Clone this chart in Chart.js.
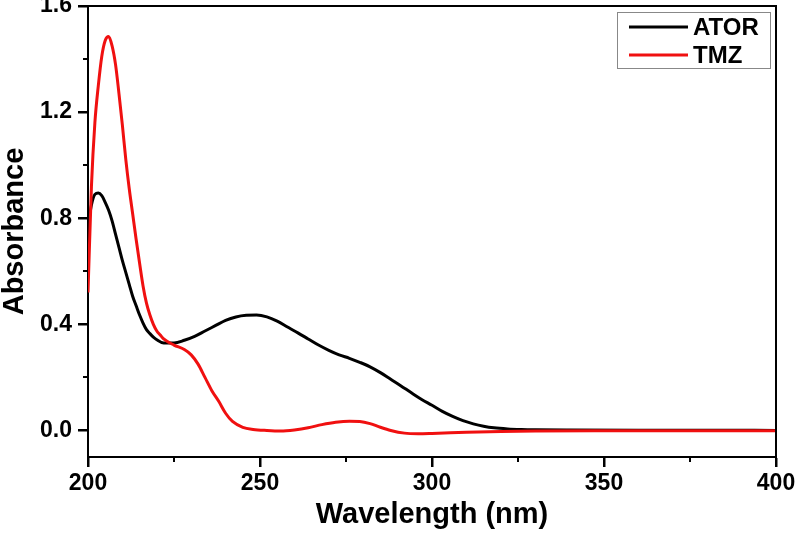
<!DOCTYPE html>
<html>
<head>
<meta charset="utf-8">
<script src="https://cdn.jsdelivr.net/npm/chart.js@4.4.1/dist/chart.umd.min.js"></script>
<style>
  html, body { margin: 0; padding: 0; background: #fff; }
  #wrap { width: 796px; height: 535px; }
</style>
</head>
<body>
<div id="wrap"><canvas id="c" width="796" height="535"></canvas></div>
<script>
// Wavelength (nm) and absorbance values
const atorWavelength = [200,201,202,203,204,205,206,207,208,209,210,211,212,213,214,215,216,217,218,219,220,222,225,228,231,234,237,240,243,246,249,252,255,258,261,264,267,270,273,276,279,282,285,288,291,294,297,300,303,306,309,312,315,318,322,326,330,340,360,380,400];
const atorAbsorbance = [0.77,0.85,0.89,0.895,0.885,0.86,0.83,0.79,0.74,0.69,0.64,0.595,0.55,0.505,0.47,0.435,0.405,0.38,0.365,0.352,0.342,0.33,0.33,0.34,0.355,0.375,0.395,0.415,0.428,0.434,0.435,0.428,0.412,0.39,0.368,0.345,0.322,0.302,0.285,0.272,0.257,0.24,0.218,0.193,0.168,0.142,0.117,0.095,0.072,0.053,0.037,0.025,0.016,0.010,0.006,0.004,0.003,0.002,0.001,0.001,0.0];

const tmzWavelength = [200,201,202,203,204,205,206,207,208,209,210,211,212,213,214,215,216,217,218,219,220,221,222,225,228,230,232,234,236,238,240,242,245,248,252,256,260,264,268,272,276,279,282,285,288,292,296,300,310,320,330,350,400];
const tmzAbsorbance = [0.52,0.92,1.16,1.30,1.41,1.47,1.485,1.45,1.38,1.27,1.15,1.02,0.91,0.815,0.72,0.63,0.545,0.48,0.435,0.40,0.375,0.36,0.345,0.322,0.305,0.285,0.25,0.20,0.15,0.11,0.065,0.034,0.012,0.004,0.0,-0.002,0.002,0.01,0.022,0.031,0.035,0.034,0.026,0.012,0.0,-0.01,-0.012,-0.011,-0.007,-0.004,-0.002,-0.001,-0.001];

const seriesNames = ['ATOR', 'TMZ'];
const xTickValues = [200, 250, 300, 350, 400];
const xMinorTicks = [225, 275, 325, 375];
const yTickValues = [0.0, 0.4, 0.8, 1.2, 1.6];
const yMinorTicks = [0.2, 0.6, 1.0, 1.4];

const FONT = '"Liberation Sans", Arial, sans-serif';

const toPoints = (xs, ys) => xs.map((x, i) => ({ x: x, y: ys[i] }));

function strokeTicks(ctx, segs) {
  ctx.beginPath();
  segs.forEach(s => { ctx.moveTo(s[0], s[1]); ctx.lineTo(s[2], s[3]); });
  ctx.stroke();
}

const frameAndTicks = {
  id: 'frameAndTicks',
  afterDraw(chart) {
    const ctx = chart.ctx;
    const a = chart.chartArea;
    const xs = chart.scales.x, ys = chart.scales.y;
    ctx.save();
    ctx.strokeStyle = '#000';
    ctx.lineWidth = 2;
    ctx.beginPath();
    ctx.moveTo(a.left, a.top); ctx.lineTo(a.right, a.top); ctx.lineTo(a.right, a.bottom);
    ctx.stroke();
    const segs = [];
    xTickValues.forEach(v => {
      const px = Math.round(xs.getPixelForValue(v));
      segs.push([px, a.bottom, px, a.bottom + 10]);
    });
    xMinorTicks.forEach(v => {
      const px = Math.round(xs.getPixelForValue(v));
      segs.push([px, a.bottom, px, a.bottom + 5]);
    });
    yTickValues.forEach(v => {
      const py = Math.round(ys.getPixelForValue(v));
      segs.push([a.left, py, a.left - 10, py]);
    });
    yMinorTicks.forEach(v => {
      const py = Math.round(ys.getPixelForValue(v));
      segs.push([a.left, py, a.left - 5, py]);
    });
    ctx.strokeStyle = '#000';
    ctx.lineWidth = 2;
    strokeTicks(ctx, segs);

    // legend
    const bx = 617, by = 12, bw = 153, bh = 56;
    ctx.fillStyle = '#fff';
    ctx.fillRect(bx, by, bw, bh);
    ctx.strokeStyle = '#888';
    ctx.lineWidth = 1;
    ctx.strokeRect(bx + 0.5, by + 0.5, bw, bh);
    const rows = [27, 55];
    chart.data.datasets.forEach((ds, i) => {
      const y = rows[i];
      ctx.strokeStyle = ds.borderColor;
      ctx.lineWidth = 3;
      ctx.beginPath();
      ctx.moveTo(629, y); ctx.lineTo(688, y);
      ctx.stroke();
      ctx.fillStyle = '#000';
      ctx.font = 'bold 24px ' + FONT;
      ctx.textBaseline = 'middle';
      ctx.textAlign = 'left';
      ctx.fillText(ds.label, 693, y + 1);
    });
    ctx.restore();
  }
};

new Chart(document.getElementById('c'), {
  type: 'line',
  data: {
    datasets: [
      { label: seriesNames[0], data: toPoints(atorWavelength, atorAbsorbance), borderColor: '#000000', borderWidth: 3, pointRadius: 0, tension: 0.4, cubicInterpolationMode: 'monotone', fill: false, order: 1 },
      { label: seriesNames[1], data: toPoints(tmzWavelength, tmzAbsorbance), borderColor: '#f01010', borderWidth: 3, pointRadius: 0, tension: 0.4, cubicInterpolationMode: 'monotone', fill: false, order: 0 }
    ]
  },
  options: {
    responsive: false,
    animation: false,
    layout: { padding: { top: 6, right: 20, left: 0, bottom: 0 } },
    plugins: { legend: { display: false }, tooltip: { enabled: false } },
    scales: {
      x: {
        type: 'linear', min: 200, max: 400,
        afterFit: s => { s.height = 78; s.paddingLeft = 0; s.paddingRight = 0; },
        afterBuildTicks: s => { s.ticks = xTickValues.map(v => ({ value: v })); },
        grid: { drawOnChartArea: false, tickLength: 10, tickColor: '#000', tickWidth: 2 },
        border: { color: '#000', width: 2 },
        ticks: { color: '#000', font: { family: FONT, size: 23, weight: 'bold' }, padding: 3, maxRotation: 0, callback: v => String(v) },
        title: { display: true, text: 'Wavelength (nm)', color: '#000', font: { family: FONT, size: 29, weight: 'bold', lineHeight: 1.2 }, padding: { top: 0, bottom: 3 } }
      },
      y: {
        type: 'linear', min: -0.1, max: 1.6,
        afterFit: s => { s.width = 88; s.paddingTop = 0; s.paddingBottom = 0; },
        afterBuildTicks: s => { s.ticks = yTickValues.map(v => ({ value: v })); },
        grid: { drawOnChartArea: false, tickLength: 10, tickColor: '#000', tickWidth: 2 },
        border: { color: '#000', width: 2 },
        ticks: { color: '#000', font: { family: FONT, size: 23, weight: 'bold' }, padding: 6, callback: v => Number(v).toFixed(1) },
        title: { display: true, text: 'Absorbance', color: '#000', font: { family: FONT, size: 29, weight: 'bold', lineHeight: 1.0 }, padding: { top: 0, bottom: 0 } }
      }
    }
  },
  plugins: [frameAndTicks]
});
</script>
</body>
</html>
